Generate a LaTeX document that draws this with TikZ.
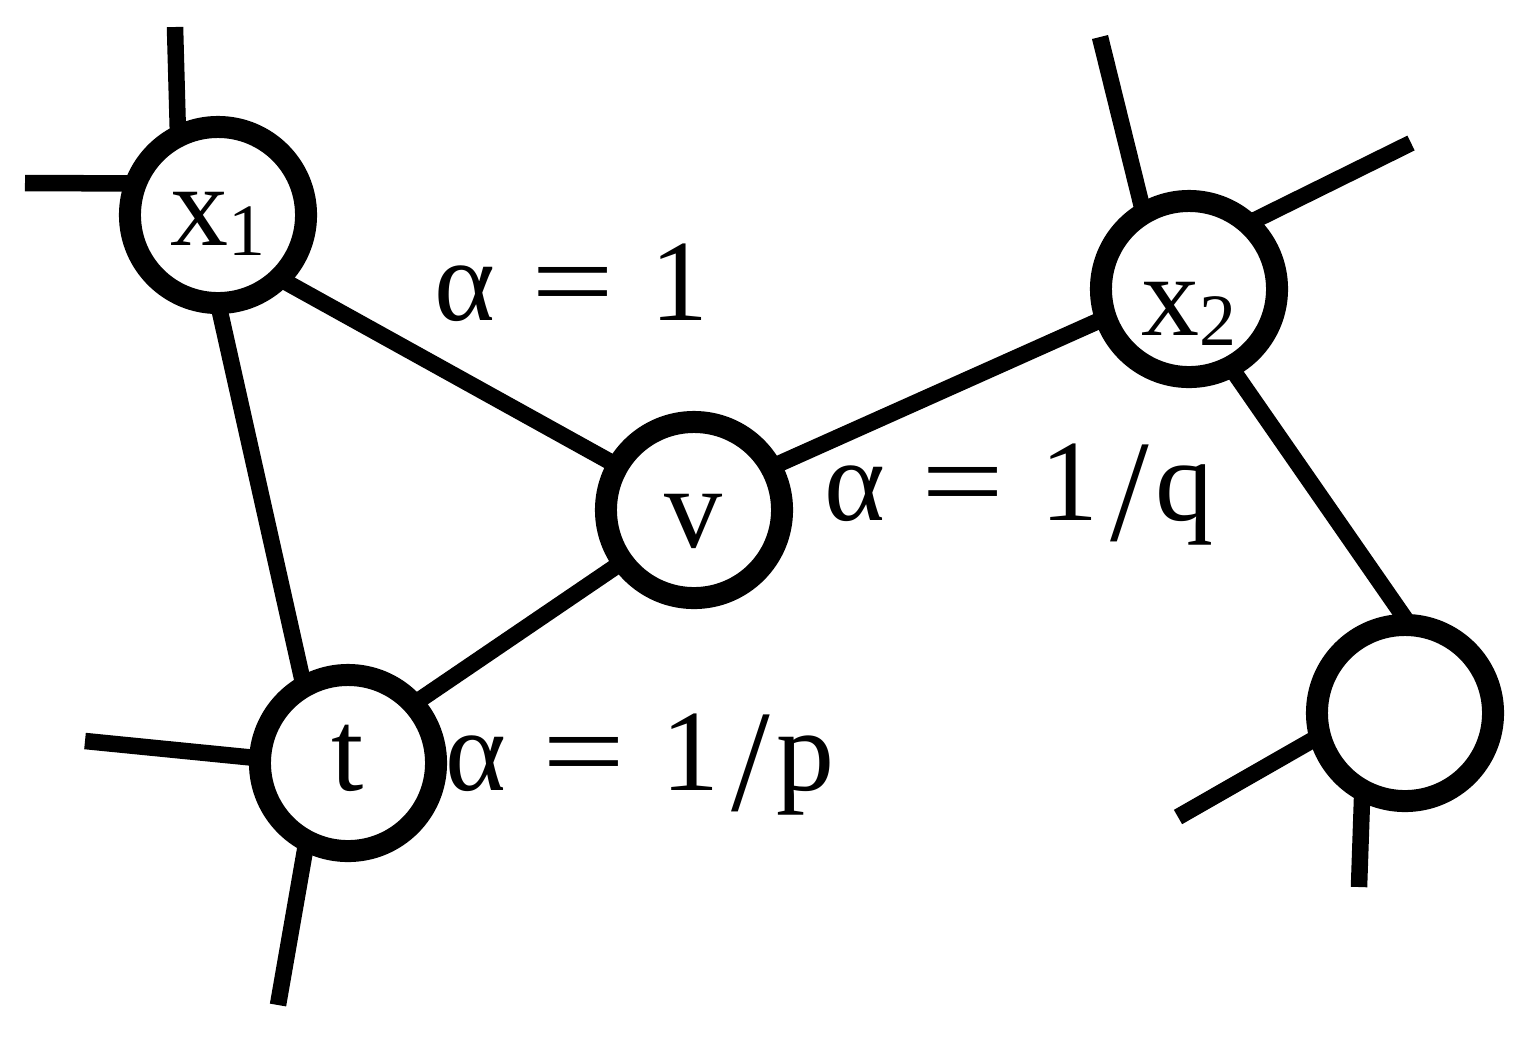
\documentclass[tikz,border=0pt]{standalone}
\usepackage{graphicx}
\usepackage{fontspec}
\setmainfont{Liberation Serif}
\usetikzlibrary{backgrounds}
\newcommand{\lowsub}[1]{\raisebox{-0.1cm}{\fontsize{21}{21}\selectfont #1}}
\newcommand{\eqs}{\hspace{0.31em}\scalebox{1.27}[1]{=}\hspace{0.31em}}
\newcommand{\slsh}{\hspace{0.1em}\raisebox{-0.18em}{\scalebox{1.2}[1.25]{/}}\hspace{0.06em}}

\begin{document}
\begin{tikzpicture}[x=0.01cm,y=-0.01cm,
  vtx/.style={circle,draw,fill=white,line width=0.22cm,minimum size=1.76cm,
    inner sep=0pt,outer sep=0pt,font=\fontsize{33}{40}\selectfont,
    text height=#1,text depth=0pt},
  vtx/.default=0.6cm,
  edge/.style={line width=0.165cm},
  lab/.style={anchor=base west,inner sep=0pt,font=\fontsize{33}{40}\selectfont}]
  \useasboundingbox (0,0) rectangle (1524,1038);
  % vertices
  \node[vtx] (x1) at (218,215) {x\lowsub{1}};
  \node[vtx=0.54cm] (t) at (348,763) {t};
  \node[vtx=0.74cm] (v) at (694,510) {v};
  \node[vtx=0.92cm] (x2) at (1189,289) {x\lowsub{2}};
  \node[vtx] (u) at (1405,713) {};
  % weights
  \node[lab] (w1) at (434,320) {α\eqs1};
  \node[lab] (wq) at (824,520) {α\eqs1\slsh q};
  \node[lab] (wp) at (445,790) {α\eqs1\slsh p};
  \begin{scope}[on background layer]
    \draw[edge] (x1.-46) -- (v.150);
    \draw[edge] (x1.-90) -- (t.120);
    \draw[edge] (t.42) -- (v.216);
    \draw[edge] (v.29) -- (x2.199);
    \draw[edge] (x2.-62) -- (u.87);
    % loose ends
    \foreach \n/\a/\x/\y in {x1/117/175/27, x1/159/25/183, t/177/85/741,
        t/-118/278/1005, x2/121/1100/37, x2/48/1411/143, u/195/1178/817,
        u/-119/1359/887}
      { \coordinate (end-\n-\a) at (\x,\y);
        \draw[edge] (end-\n-\a) -- (\n.\a); }
  \end{scope}
\end{tikzpicture}
\end{document}
